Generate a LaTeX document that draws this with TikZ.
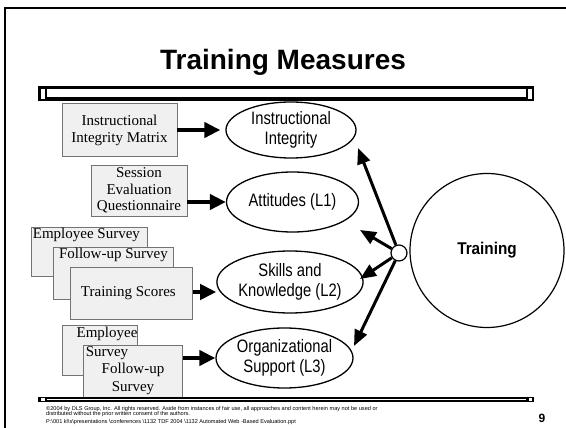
\documentclass[tikz,border=0pt]{standalone}
\usepackage{fontspec}
\setmainfont{Liberation Serif}
\newfontfamily\arialfont{Liberation Sans}
\newfontfamily\narrowfont[FakeStretch=0.82]{Liberation Sans}
\newfontfamily\boldnarrow[FakeStretch=0.9]{Liberation Sans}
\usetikzlibrary{arrows.meta, shapes.geometric}

\tikzset{
  frameline/.style={line width=2pt},
  measurebox/.style={rectangle, draw=black!55, fill=black!6, line width=0.8pt,
    inner sep=0pt},
  boxtext/.style={inner sep=1pt, align=center,
    font=\fontsize{15}{17}\selectfont},
  outcome/.style={ellipse, draw=black, fill=white, line width=1.3pt, inner sep=0pt,
    align=center, font=\narrowfont\fontsize{18}{20}\selectfont},
  flow/.style={line width=4pt, -{Triangle[length=16pt,width=15pt]}},
  spoke/.style={line width=3pt, -{Triangle[length=16pt,width=13pt]}},
  footnote/.style={inner sep=0pt, anchor=base west,
    font=\arialfont\fontsize{5.6}{6}\selectfont},
}

\begin{document}
\begin{tikzpicture}[x=1pt, y=-1pt]
\useasboundingbox (0,0) rectangle (566,428);

% slide frame
\draw[frameline] (5,428) -- (5,8) -- (566,8);

% title
\node[inner sep=0pt, anchor=base, font=\arialfont\bfseries\fontsize{28}{30}\selectfont]
  (title) at (283,70) {Training Measures};

% upper rule
\fill (38,86) rectangle (534,101);
\fill[white] (47,89.5) rectangle (526,97.5);
\filldraw[fill=white, draw=black, line width=0.6pt] (40.5,88) rectangle (45,99);
\filldraw[fill=white, draw=black, line width=0.6pt] (527.5,88) rectangle (532,99);

% measurement instruments
\node[measurebox, minimum width=115pt, minimum height=53pt] (b1) at (119.5,130) {};
\node[boxtext] (t1) at (b1) {Instructional\\Integrity Matrix};

\node[measurebox, minimum width=96pt, minimum height=51pt] (b2) at (139,190.5) {};
\node[boxtext, font=\fontsize{15}{16.5}\selectfont] (t2) at (b2) {Session\\Evaluation\\Questionnaire};

\node[measurebox, minimum width=116pt, minimum height=49pt, anchor=north west] (b3) at (31,227) {};
\node[boxtext, anchor=north] (t3) at ([xshift=-3pt]b3.north) {Employee Survey};

\node[measurebox, minimum width=120pt, minimum height=52pt, anchor=north west] (b4) at (53,247) {};
\node[boxtext, anchor=north] (t4) at (b4.north) {Follow-up Survey};

\node[measurebox, minimum width=122pt, minimum height=52pt, anchor=north west] (b5) at (70,267) {};
\node[boxtext] (t5) at ([xshift=-3pt]b5.center) {Training Scores};

\node[measurebox, minimum width=75pt, minimum height=50pt, anchor=north west] (b6) at (62,325) {};
\node[measurebox, minimum width=99pt, minimum height=52pt, anchor=north west] (b7) at (83,345) {};
\node[boxtext, anchor=north, font=\fontsize{15}{19}\selectfont] (t6) at (107,325.5) {Employee\\Survey};
\node[boxtext, font=\fontsize{15}{18}\selectfont] (t7) at (133,379) {Follow-up\\Survey};

% training outcomes
\node[outcome, minimum width=130pt, minimum height=56pt] (e1) at (291,130) {Instructional\\Integrity};
\node[outcome, minimum width=132pt, minimum height=60pt] (e2) at (292.5,202) {Attitudes (L1)};
\node[outcome, minimum width=128pt, minimum height=62pt] (e3) at (290,282) {Skills and\\Knowledge (L2)};
\node[outcome, minimum width=137pt, minimum height=60pt] (e4) at (284.5,358) {Organizational\\Support (L3)};

% instrument -> outcome
\draw[flow] (b1.east) -- ([xshift=-5pt]e1.west);
\draw[flow] (b2.east |- e2.west) -- (e2.west);
\draw[flow] (b5.east |- 0,292) -- (e3.west |- 0,292);
\draw[flow] (b7.east |- e4.west) -- (e4.west);

% training and its branching point
\node[circle, draw=black, line width=1.2pt, minimum size=154pt, inner sep=0pt,
  font=\boldnarrow\bfseries\fontsize{17}{19}\selectfont] (train) at (487,250.5) {Training};
\node[circle, draw=black, fill=white, line width=1.2pt, minimum size=16pt, inner sep=0pt] (jn) at (399,253) {};

\coordinate (p1) at (358,148);
\coordinate (p2) at (360,230);
\coordinate (p3) at (360,279);
\coordinate (p4) at (354,346);
\draw[spoke] (jn) -- (p1);
\draw[spoke] (jn) -- (p2);
\draw[spoke] (jn) -- (p3);
\draw[spoke] (jn) -- (p4);

% lower rule
\fill (38,397) rectangle (534,402);
\fill[white] (47,399) rectangle (526,400);
\filldraw[fill=white, draw=black, line width=0.5pt] (40.5,397.5) rectangle (45,401.5);
\filldraw[fill=white, draw=black, line width=0.5pt] (528,397.5) rectangle (532.5,401.5);

% footer
\node[footnote] (f1) at (46,410.5) {\textcopyright 2004 by DLS Group, Inc. All rights reserved. Aside from instances of fair use, all approaches and content herein may not be used or};
\node[footnote] (f2) at (46,415.5) {distributed without the prior written consent of the authors.};
\node[footnote] (f3) at (46,423.5) {P:\textbackslash 001 kl\textbackslash s\textbackslash presentations \textbackslash conferences \textbackslash 1132 TDF 2004 \textbackslash 1132 Automated Web -Based Evaluation.ppt};
\node[inner sep=0pt, font=\arialfont\bfseries\fontsize{12}{13}\selectfont] (pg) at (542,418) {9};
\end{tikzpicture}
\end{document}
